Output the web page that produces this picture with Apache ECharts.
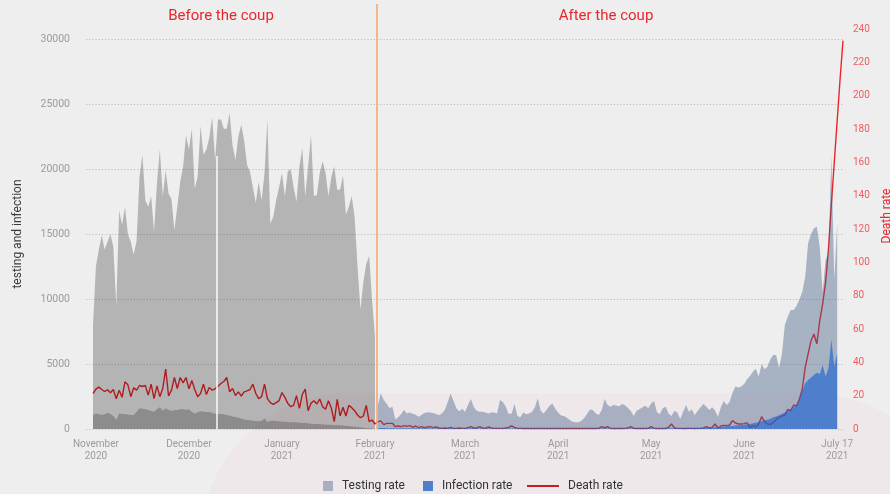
<!DOCTYPE html>
<html>
<head>
<meta charset="utf-8">
<script src="https://cdn.jsdelivr.net/npm/echarts@6/dist/echarts.min.js"></script>
<style>
html, body { margin: 0; padding: 0; background: #eeeeee; }
#chart { width: 890px; height: 494px; }
</style>
</head>
<body>
<div id="chart"></div>
<script>
// one value per day, from the start of November 2020 to 17 July 2021
var testing = [
    8000,12500,13800,14900,13800,14400,15000,14000,9500,16800,
    15700,17100,15000,14400,13400,14500,19400,21100,17600,17100,
    17900,15200,18900,21500,17900,19900,18100,17700,15300,17100,
    19000,20200,22600,21500,23100,18500,19400,23300,21100,21500,
    22400,24000,20700,23800,23800,23100,23100,24300,21800,20700,
    22500,23400,22200,20300,19800,18600,17400,19000,17600,19700,
    23800,15800,16300,17600,18600,19700,17900,19800,20000,18600,
    17500,20200,21600,17900,20200,22600,17900,18000,19700,20600,
    19700,17900,19400,20200,18400,18400,19500,16500,17100,17900,
    16300,12500,9200,11300,12700,13300,9900,7100,
    1800,2740,2230,1970,1590,1720,740,900,1150,1460,
    1200,1260,1180,1100,950,1080,1230,1280,1260,1230,
    1150,1050,1200,1460,2030,2740,2180,1590,1360,1560,
    1330,1850,2310,1670,1410,1330,1330,1260,1200,1260,
    1260,1200,2230,2080,1720,1150,1200,1920,1000,900,
    1260,1130,1200,1310,1670,2360,1410,1200,1460,1770,
    1970,1560,1260,1030,1000,870,690,560,510,510,
    640,850,1180,1510,1440,1200,1080,1460,2310,1850,
    1720,1850,1800,1750,1920,1820,1620,1380,1000,1410,
    1510,1670,1790,1590,1970,2150,1280,1150,1590,1720,
    1200,1000,1410,1260,770,1330,1820,1330,1510,1050,
    1410,1670,1920,1720,1460,1670,1410,950,1670,2150,
    1850,2100,2790,3260,3200,3260,3460,3820,4080,4410,
    4640,4030,5000,4590,4790,5360,5690,5690,4700,5820,
    8000,8640,9150,9150,9460,9970,10560,11720,14280,15000,
    15440,15560,14000,10500,13000,13500,21000,11500,15800,
    null,null
];
var infection = [
    1080,1200,1150,1080,1130,1250,1150,1000,690,1200,
    1150,1150,1100,1080,1080,1330,1590,1560,1510,1460,
    1380,1330,1510,1670,1410,1590,1460,1380,1460,1460,
    1510,1510,1460,1510,1310,1200,1280,1360,1330,1310,
    1310,1250,1180,1150,1150,1130,1080,1030,970,920,
    870,800,740,690,670,640,620,590,640,800,
    540,620,640,620,590,560,560,540,510,510,
    510,490,460,460,440,410,380,380,360,360,
    330,330,310,280,280,280,260,230,230,200,
    180,150,130,100,80,50,30,30,
    60,80,70,60,50,60,40,50,50,60,
    50,50,40,50,40,40,50,50,40,40,
    40,50,40,40,50,60,50,40,40,40,
    40,50,60,50,40,40,40,40,40,40,
    30,30,40,40,40,30,40,40,30,30,
    30,30,30,30,40,40,30,30,30,40,
    40,30,30,30,30,20,20,20,20,20,
    20,20,30,30,30,30,30,40,40,40,
    40,40,40,40,40,40,40,40,30,40,
    40,40,50,50,50,50,40,40,50,50,
    50,60,60,60,50,50,60,60,60,70,
    70,70,80,80,
    80,100,130,150,180,180,210,230,230,260,
    280,310,330,360,380,440,490,540,590,670,
    720,790,900,970,1050,1150,1260,1380,1510,1670,
    1850,2280,2920,3510,3770,3970,4180,4330,4230,4920,
    4030,4670,6900,4800,5820,
    null,null
];
var death = [
    21.3,23.9,25.1,23.7,22.5,23.5,21.7,23.7,18.2,23.3,
    19.0,28.3,26.5,19.4,24.7,23.3,26.1,25.5,26.1,20.3,
    26.9,18.2,25.9,19.4,24.3,35.9,19.8,23.3,30.9,24.3,
    30.9,27.7,30.9,24.1,29.1,23.7,19.4,21.3,26.9,20.7,
    24.9,23.3,24.1,25.7,27.3,28.5,30.9,22.3,24.3,20.1,
    22.3,19.8,22.3,22.9,23.7,26.9,21.3,18.2,19.4,26.9,
    18.2,15.8,14.8,15.8,17.0,21.9,19.0,15.4,13.4,14.2,
    20.0,12.4,20.7,23.9,11.0,15.4,17.0,15.0,18.0,13.4,
    11.8,17.0,12.4,4.4,17.8,7.8,13.0,7.8,14.2,12.8,
    11.0,8.4,6.8,7.8,14.2,4.4,5.4,3.0,
    4.4,4.8,2.6,3.4,3.4,3.4,1.4,1.8,1.4,2.0,
    1.6,2.0,1.0,1.8,0.8,1.4,0.8,1.2,1.4,0.8,
    1.2,
    0.6,0.4,0.6,0.4,1.0,0.4,0.4,0.6,0.4,0.4,
    0.8,1.4,0.6,0.6,1.4,0.6,0.4,1.2,0.6,0.4,
    0.4,0.4,0.4,0.6,1.0,1.8,1.0,0.4,
    0.4,0.3,0.3,0.4,0.3,0.3,0.4,0.3,0.3,0.3,
    0.4,0.3,0.3,0.3,0.3,0.4,0.3,0.3,0.3,0.3,
    0.3,0.3,0.3,0.3,0.4,0.3,0.3,0.4,
    1.4,0.6,1.4,0.4,0.3,0.3,0.3,0.3,0.4,0.6,
    1.4,0.4,0.3,0.3,0.3,0.3,0.4,1.4,0.4,0.3,
    0.3,0.3,0.3,1.0,3.0,0.6,0.4,0.4,0.3,0.3,
    0.4,0.4,0.3,0.4,0.4,0.6,1.4,
    0.6,1.0,3.0,0.6,1.8,2.2,2.0,2.4,5.0,3.6,
    3.0,3.0,3.2,3.8,1.0,2.2,1.2,3.0,7.4,4.4,
    3.0,2.6,4.0,5.6,7.0,7.8,8.4,11.8,11.0,14.4,
    13.8,18,24,37,45,53,
    57,51,65,75,88,108,135,160,185,210,233
];

var lastBefore = 97;      // last day drawn before the coup
var coupDay = 97.45;      // 1 February 2021
var gapDay = 42.7;        // missing day in the testing data
var gapTop = 21000;
var monthTicks = [1, 33, 65, 97, 128, 160, 192, 224, 256];
var monthLabels = ['November\n2020', 'December\n2020', 'January\n2021', 'February\n2021',
    'March\n2021', 'April\n2021', 'May\n2021', 'June\n2021', 'July 17\n2021'];

var dayMin = -2.408, dayMax = 258;

function pairs(arr, from, to) {
    var out = [];
    for (var i = from; i <= to && i < arr.length; i++) {
        if (arr[i] != null) out.push([i, arr[i]]);
    }
    return out;
}

var chart = echarts.init(document.getElementById('chart'));
var font = 'Roboto, "Noto Sans", sans-serif';

var xBase = { type: 'value', min: dayMin, max: dayMax, axisLine: { show: false },
    axisTick: { show: false }, splitLine: { show: false } };

option = {
    backgroundColor: '#eeeeee',
    textStyle: { fontFamily: font },
    animation: false,
    graphic: [
        { type: 'rect', z: -10, silent: true,
          shape: { x: 200, y: 393, width: 760, height: 300, r: 170 },
          style: { fill: '#efe8eb' } },
        { type: 'text', silent: true,
          style: { x: 221, y: 16, text: 'Before the coup', fill: '#e8262b', font: '15px ' + font,
                   align: 'center', verticalAlign: 'middle' } },
        { type: 'text', silent: true,
          style: { x: 606, y: 16, text: 'After the coup', fill: '#e8262b', font: '15px ' + font,
                   align: 'center', verticalAlign: 'middle' } }
    ],
    legend: [
        {
            data: ['Testing rate', { name: 'Infection rate', itemStyle: { color: '#4e7fcb' } }],
            left: 318, top: 475, itemWidth: 10, itemHeight: 10, itemGap: 18, icon: 'rect',
            textStyle: { fontSize: 12, color: '#333', padding: [0, 0, 0, 4] }
        },
        {
            data: [{ name: 'Death rate', icon: 'path://M0,4L32,4L32,6L0,6Z',
                     itemStyle: { color: '#c41e24' } }],
            left: 522, top: 475, itemWidth: 32, itemHeight: 10,
            textStyle: { fontSize: 12, color: '#333', padding: [0, 0, 0, 4] }
        }
    ],
    grid: [
        { left: 86, right: 47, top: 39, bottom: 65, outerBoundsMode: 'none' },
        { left: 86, right: 47, top: 29, bottom: 65, outerBoundsMode: 'none' },
        { left: 86, right: 47, top: 4, bottom: 65, outerBoundsMode: 'none' }
    ],
    xAxis: [
        Object.assign({}, xBase, {
            gridIndex: 0,
            axisLabel: {
                customValues: monthTicks,
                formatter: function (v) {
                    var k = monthTicks.indexOf(v);
                    return k >= 0 ? monthLabels[k] : '';
                },
                color: '#9b9b9b', fontSize: 10, lineHeight: 12, margin: 9
            }
        }),
        Object.assign({}, xBase, { gridIndex: 1, axisLabel: { show: false } }),
        Object.assign({}, xBase, { gridIndex: 2, axisLabel: { show: false } })
    ],
    yAxis: [
        {
            gridIndex: 0, type: 'value', min: 0, max: 30000, interval: 5000,
            name: 'testing and infection', nameLocation: 'middle', nameGap: 62,
            nameTextStyle: { color: '#3c3c3c', fontSize: 12 },
            axisLine: { show: false }, axisTick: { show: false },
            axisLabel: { color: '#9b9b9b', fontSize: 10.5, margin: 16,
                         formatter: function (v) { return String(v); } },
            splitLine: { lineStyle: { color: '#bdbdbd', type: [1.2, 2] } }
        },
        {
            gridIndex: 1, type: 'value', position: 'right', min: 0, max: 240, interval: 20,
            name: 'Death rate', nameLocation: 'middle', nameGap: 34,
            nameTextStyle: { color: '#e8262b', fontSize: 12, padding: [0, 0, 0, 26] },
            axisLine: { show: false }, axisTick: { show: false },
            axisLabel: { color: '#ef5b60', fontSize: 10, margin: 10 },
            splitLine: { show: false }
        },
        { gridIndex: 2, type: 'value', min: 0, max: 1, show: false }
    ],
    series: [
        {
            name: 'Death rate', type: 'line', xAxisIndex: 1, yAxisIndex: 1, z: 1,
            data: pairs(death, 0, death.length - 1), symbol: 'none',
            color: '#e8262b', lineStyle: { width: 1.4, color: '#e8262b' }
        },
        {
            name: 'Testing before', type: 'line', z: 2, silent: true,
            data: pairs(testing, 0, lastBefore), symbol: 'none',
            color: 'rgba(0,0,0,0.245)', lineStyle: { width: 0 },
            areaStyle: { color: 'rgba(0,0,0,0.245)', opacity: 1 }
        },
        {
            name: 'Testing rate', type: 'line', z: 2, silent: true,
            data: pairs(testing, lastBefore + 1, testing.length - 1), symbol: 'none',
            color: 'rgba(60,90,130,0.4)', lineStyle: { width: 0 },
            areaStyle: { color: 'rgba(60,90,130,0.4)', opacity: 1 }
        },
        {
            name: 'Infection before', type: 'line', z: 3, silent: true,
            data: pairs(infection, 0, lastBefore), symbol: 'none',
            color: 'rgba(0,0,0,0.22)', lineStyle: { width: 0 },
            areaStyle: { color: 'rgba(0,0,0,0.22)', opacity: 1 },
            markLine: {
                silent: true, symbol: 'none', label: { show: false },
                lineStyle: { color: '#ffffff', width: 1.6, type: 'solid', opacity: 0.9 },
                data: [[{ coord: [gapDay, 0] }, { coord: [gapDay, gapTop] }]]
            }
        },
        {
            name: 'Infection rate', type: 'line', z: 3, silent: true,
            data: pairs(infection, lastBefore + 1, infection.length - 1), symbol: 'none',
            color: 'rgba(30,100,210,0.65)', lineStyle: { width: 0 },
            areaStyle: { color: 'rgba(30,100,210,0.65)', opacity: 1 }
        },
        {
            name: 'coup', type: 'line', xAxisIndex: 2, yAxisIndex: 2, z: 6,
            data: [], symbol: 'none',
            markLine: {
                silent: true, symbol: 'none', label: { show: false },
                lineStyle: { color: '#f2a46c', width: 1.5, type: 'solid' },
                data: [{ xAxis: coupDay }]
            }
        }
    ]
};

chart.setOption(option);
</script>
</body>
</html>
